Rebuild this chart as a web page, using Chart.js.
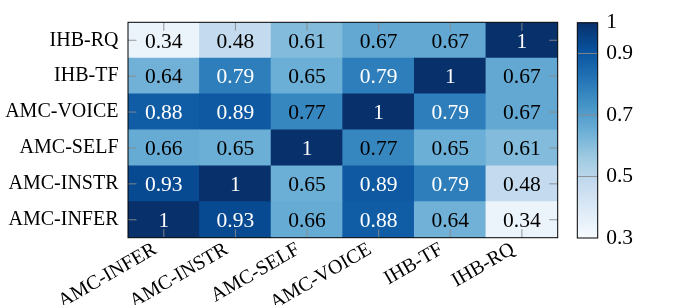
<!DOCTYPE html>
<html><head><meta charset="utf-8">
<script src="https://cdn.jsdelivr.net/npm/chart.js@4"></script>
<style>
html,body{margin:0;padding:0;background:#fff;}
#wrap{position:relative;width:700px;height:305px;overflow:hidden;}
canvas{position:absolute;top:0;}
</style></head><body>
<div id="wrap">
<canvas id="main" width="700" height="305" style="left:0;width:700px;height:305px"></canvas>
<canvas id="cbar" width="160" height="305" style="left:540px;width:160px;height:305px"></canvas>
</div>
<script>
// ---- data ----
const colLabels = ['AMC-INFER','AMC-INSTR','AMC-SELF','AMC-VOICE','IHB-TF','IHB-RQ'];
const rowLabels = ['AMC-INFER','AMC-INSTR','AMC-SELF','AMC-VOICE','IHB-TF','IHB-RQ']; // bottom to top
const rowAmcInfer = [1, 0.93, 0.66, 0.88, 0.64, 0.34];
const rowAmcInstr = [0.93, 1, 0.65, 0.89, 0.79, 0.48];
const rowAmcSelf  = [0.66, 0.65, 1, 0.77, 0.65, 0.61];
const rowAmcVoice = [0.88, 0.89, 0.77, 1, 0.79, 0.67];
const rowIhbTf    = [0.64, 0.79, 0.65, 0.79, 1, 0.67];
const rowIhbRq    = [0.34, 0.48, 0.61, 0.67, 0.67, 1];
const colorbarTicks = [0.3, 0.5, 0.7, 0.9, 1];
const colorMin = 0.3, colorMax = 1;

const rows = [rowAmcInfer, rowAmcInstr, rowAmcSelf, rowAmcVoice, rowIhbTf, rowIhbRq];

// ---- colormap (Blues) ----
const blues = ['#f7fbff','#deebf7','#c6dbef','#9ecae1','#6baed6','#4292c6','#2171b5','#08519c','#08306b'];
function hex2rgb(h){return [parseInt(h.substr(1,2),16),parseInt(h.substr(3,2),16),parseInt(h.substr(5,2),16)];}
function colorFor(v){
  let t = (v - colorMin) / (colorMax - colorMin);
  t = Math.max(0, Math.min(1, t));
  const p = t * (blues.length - 1);
  const i = Math.min(Math.floor(p), blues.length - 2);
  const f = p - i;
  const a = hex2rgb(blues[i]), b = hex2rgb(blues[i+1]);
  const c = a.map((x,k)=>Math.round(x + (b[k]-x)*f));
  return 'rgb(' + c.join(',') + ')';
}

const SERIF = "'Liberation Serif', 'DejaVu Serif', serif";
const TICKCOL = '#8a8a8a';
const TICKLEN = 8.5;

const datasets = rows.map((vals, r) => ({
  label: rowLabels[r],
  data: vals.map(() => 1),
  values: vals,
  backgroundColor: vals.map(colorFor),
  borderWidth: 0,
  barPercentage: 1,
  categoryPercentage: 1,
  inflateAmount: 0.5
}));

const heatPlugin = {
  id: 'heat',
  afterDatasetsDraw(chart) {
    const ctx = chart.ctx;
    const ca = chart.chartArea;
    const xs = chart.scales.x, ys = chart.scales.y;
    ctx.save();
    // inner ticks
    ctx.strokeStyle = TICKCOL;
    ctx.lineWidth = 0.9;
    ctx.beginPath();
    xs.ticks.forEach((t, i) => {
      const px = xs.getPixelForTick(i);
      ctx.moveTo(px, ca.top); ctx.lineTo(px, ca.top + TICKLEN);
      ctx.moveTo(px, ca.bottom); ctx.lineTo(px, ca.bottom - TICKLEN);
    });
    ys.ticks.forEach((t) => {
      const py = ys.getPixelForValue(t.value);
      ctx.moveTo(ca.left, py); ctx.lineTo(ca.left + TICKLEN, py);
      ctx.moveTo(ca.right, py); ctx.lineTo(ca.right - TICKLEN, py);
    });
    ctx.stroke();
    // cell text
    ctx.font = '21.5px ' + SERIF;
    ctx.textAlign = 'center';
    ctx.textBaseline = 'alphabetic';
    chart.data.datasets.forEach((ds, di) => {
      const meta = chart.getDatasetMeta(di);
      meta.data.forEach((el, i) => {
        const v = ds.values[i];
        const cx = el.x, cy = (el.y + el.base) / 2;
        ctx.fillStyle = v > 0.78 ? '#ffffff' : '#000000';
        ctx.fillText(String(v), cx, cy + 7.3);
      });
    });
    // frame
    ctx.strokeStyle = '#000';
    ctx.lineWidth = 1;
    ctx.strokeRect(ca.left, ca.top, ca.right - ca.left, ca.bottom - ca.top);
    ctx.restore();
  }
};

new Chart(document.getElementById('main'), {
  type: 'bar',
  data: { labels: colLabels, datasets },
  options: {
    responsive: false,
    animation: false,
    layout: { padding: { left: 0, right: 142.3, top: 22.3, bottom: 0 } },
    plugins: { legend: { display: false }, tooltip: { enabled: false } },
    scales: {
      x: {
        stacked: true,
        grid: { display: false, drawTicks: false },
        border: { display: false },
        ticks: { autoSkip: false, minRotation: 30, maxRotation: 30, color: '#000', padding: -5,
                 font: { family: SERIF, size: 20 },
                 callback: (v, i) => colLabels[i] + '\u00a0\u00a0' },
        afterFit(s) { s.height = 67.3; }
      },
      y: {
        stacked: true,
        min: 0, max: rowLabels.length,
        grid: { display: false, drawTicks: false },
        border: { display: false },
        afterBuildTicks(s) { s.ticks = rowLabels.map((_, i) => ({ value: i + 0.5 })); },
        ticks: { autoSkip: false, color: '#000', padding: 9.5,
                 font: { family: SERIF, size: 20 },
                 callback: (v, i) => rowLabels[i] },
        afterFit(s) { s.width = 128; }
      }
    }
  },
  plugins: [heatPlugin]
});

// ---- colorbar ----
const cbarPlugin = {
  id: 'cbar',
  afterDatasetsDraw(chart) {
    const ctx = chart.ctx, ca = chart.chartArea, ys = chart.scales.y;
    ctx.save();
    ctx.strokeStyle = TICKCOL;
    ctx.lineWidth = 0.9;
    ctx.beginPath();
    ys.ticks.forEach(t => {
      if (t.value <= colorMin || t.value >= colorMax) return;
      const py = ys.getPixelForValue(t.value);
      ctx.moveTo(ca.left, py); ctx.lineTo(ca.right, py);
    });
    ctx.stroke();
    ctx.strokeStyle = '#000';
    ctx.lineWidth = 1;
    ctx.strokeRect(ca.left, ca.top, ca.right - ca.left, ca.bottom - ca.top);
    ctx.restore();
  }
};

new Chart(document.getElementById('cbar'), {
  type: 'bar',
  data: {
    labels: [''],
    datasets: [{
      data: [[colorMin, colorMax]],
      borderWidth: 0,
      barPercentage: 1,
      categoryPercentage: 1,
      backgroundColor(c) {
        const chart = c.chart;
        const ys = chart.scales.y;
        if (!chart.chartArea || !ys) return blues[4];
        const g = chart.ctx.createLinearGradient(0, ys.getPixelForValue(colorMin), 0, ys.getPixelForValue(colorMax));
        blues.forEach((col, i) => g.addColorStop(i / (blues.length - 1), col));
        return g;
      }
    }]
  },
  options: {
    responsive: false,
    animation: false,
    layout: { padding: { left: 37.3, right: 0, top: 22.7, bottom: 67 } },
    plugins: { legend: { display: false }, tooltip: { enabled: false } },
    scales: {
      x: { display: false },
      y: {
        position: 'right',
        min: colorMin, max: colorMax,
        grid: { display: false, drawTicks: false },
        border: { display: false },
        afterBuildTicks(s) { s.ticks = colorbarTicks.map(v => ({ value: v })); },
        ticks: { color: '#000', padding: 8.5, font: { family: SERIF, size: 21.5 },
                 callback: (v) => String(v) },
        afterFit(s) { s.width = 160 - 37.3 - 20.4; }
      }
    }
  },
  plugins: [cbarPlugin]
});
</script>
</body></html>
